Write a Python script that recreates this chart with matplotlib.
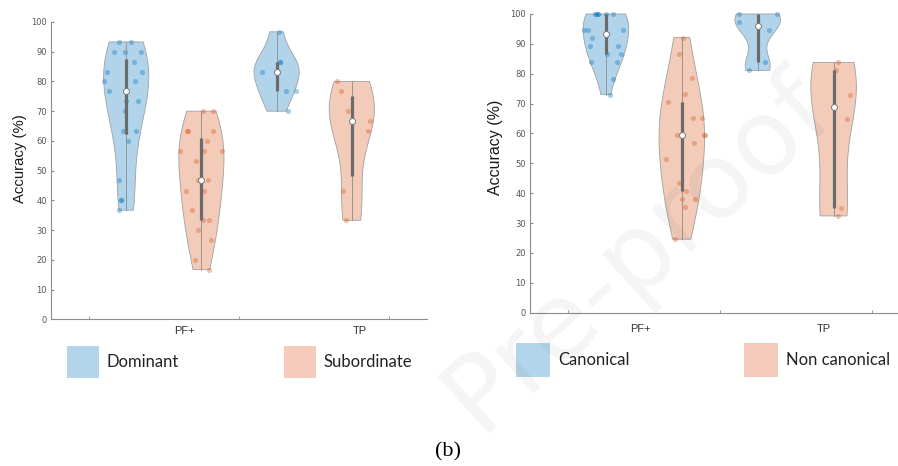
import matplotlib.pyplot as plt
from matplotlib.patches import Rectangle
import numpy as np

blue = (0.0, 0.447, 0.741)
orange = (0.85, 0.325, 0.098)

# left panel: Dominant / Subordinate
dom_pf = [93.3, 93.3, 90, 90, 90, 86.7, 83.3, 83.3, 80, 80, 76.7, 73.3, 73.3, 70, 63.3, 63.3, 60, 46.7, 40, 40, 36.7]
dom_pf_dx = [-0.09, 0.07, -0.16, -0.01, 0.20, 0.11, -0.26, 0.21, -0.29, 0.12, -0.23, 0.0, 0.16, -0.01, -0.04, 0.13, 0.02, -0.09, -0.075, -0.065, -0.09]
sub_pf = [70, 70, 63.3, 63.3, 63.3, 60, 56.7, 56.7, 56.7, 53.3, 46.7, 46.7, 43.3, 43.3, 36.7, 33.3, 33.3, 30, 26.7, 20, 16.7]
sub_pf_dx = [0.02, 0.15, -0.19, -0.18, 0.16, 0.08, -0.28, 0.04, 0.28, -0.07, -0.05, 0.09, -0.20, 0.04, -0.12, 0.02, 0.10, -0.05, 0.13, -0.08, 0.10]
dom_tp = [96.7, 86.7, 86.7, 83.3, 83.3, 76.7, 76.7, 70]
dom_tp_dx = [0.03, 0.04, 0.045, -0.20, 0.0, 0.12, 0.26, 0.15]
sub_tp = [80, 76.7, 70, 66.7, 63.3, 43.3, 33.3]
sub_tp_dx = [-0.20, -0.15, -0.05, 0.24, 0.21, -0.12, -0.08]

# right panel: Canonical / Non canonical
can_pf = [100, 100, 100, 100, 100, 100, 94.6, 94.6, 94.6, 91.9, 89.2, 89.2, 86.5, 86.5, 83.8, 83.8, 78.4, 73.0]
can_pf_dx = [-0.15, -0.13, -0.11, -0.10, 0.10, 0.0, -0.29, -0.23, 0.22, -0.18, -0.21, 0.16, 0.01, 0.20, -0.20, 0.15, 0.10, 0.06]
non_pf = [92.1, 86.6, 78.5, 73.1, 70.4, 65.1, 65.1, 59.6, 59.6, 59.6, 56.9, 51.5, 43.4, 40.6, 37.9, 37.9, 35.3, 24.6]
non_pf_dx = [0.02, -0.04, 0.13, 0.04, -0.18, 0.15, 0.27, 0.29, 0.30, -0.06, 0.16, -0.21, -0.04, 0.05, 0.0, 0.18, 0.04, -0.09]
can_tp = [100, 100, 97.3, 94.6, 83.8, 81.1]
can_tp_dx = [-0.24, 0.26, -0.24, 0.15, 0.10, -0.11]
non_tp = [83.8, 81.1, 73.0, 64.9, 35.1, 32.4]
non_tp_dx = [0.06, 0.03, 0.22, 0.18, 0.10, 0.06]

cond_labels = ['PF+', 'TP']
left_names = ['Dominant', 'Subordinate']
right_names = ['Canonical', 'Non canonical']


def kde(vals, grid):
    # same default bandwidth as MATLAB ksdensity
    v = np.asarray(vals, dtype=float)
    sig = np.median(np.abs(v - np.median(v))) / 0.6745
    bw = sig * (4 / (3 * len(v))) ** 0.2
    return np.exp(-0.5 * ((grid[:, None] - v[None, :]) / bw) ** 2).sum(axis=1)


def violin(ax, pos, vals, dx, color):
    v = np.asarray(vals, dtype=float)
    grid = np.linspace(v.min(), v.max(), 200)
    w = kde(v, grid)
    w = w / w.max() * 0.3
    xs = np.concatenate([pos - w, (pos + w)[::-1]])
    ys = np.concatenate([grid, grid[::-1]])
    ax.fill(xs, ys, facecolor=(*color, 0.3), edgecolor='#a0a0a0', lw=0.6, zorder=2, clip_on=False)
    ax.scatter(pos + np.asarray(dx), v, s=14, color=color, alpha=0.35, lw=0, zorder=3, clip_on=False)
    q1, med, q3 = np.percentile(v, [25, 50, 75], method='hazen')
    ax.plot([pos, pos], [v.min(), v.max()], color='#8a8a8a', lw=0.6, zorder=4, clip_on=False)
    ax.plot([pos, pos], [q1, q3], color='#6b6b6b', lw=2.3, zorder=5, solid_capstyle='butt', clip_on=False)
    ax.plot(pos, med, 'o', ms=4.3, mfc='white', mec='#7a7a7a', mew=0.7, zorder=6, clip_on=False)


def setup(ax, label_pos, label_pad):
    ax.set_xlim(0, 5)
    ax.set_ylim(0, 100)
    ax.set_yticks(np.arange(0, 101, 10))
    ax.set_xticks(label_pos)
    ax.set_xticklabels(cond_labels, fontsize=8, color='#333333', family='Liberation Sans')
    ax.set_xticks([0.5, 2.5, 4.5], minor=True)
    ax.tick_params(axis='x', which='major', length=0, pad=label_pad)
    ax.tick_params(axis='x', which='minor', direction='in', length=2.5, color='#8c8c8c')
    ax.tick_params(axis='y', direction='in', length=2.5, color='#8c8c8c', labelsize=6,
                   labelcolor='#555555', pad=3)
    for s in ['top', 'right']:
        ax.spines[s].set_visible(False)
    for s in ['left', 'bottom']:
        ax.spines[s].set_color('#8c8c8c')
        ax.spines[s].set_linewidth(0.8)
    ax.set_facecolor('none')


fig = plt.figure(figsize=(8.98, 4.66), dpi=100)

ax1 = fig.add_axes([0.0568, 0.3148, 0.4187, 0.638])
violin(ax1, 1, dom_pf, dom_pf_dx, blue)
violin(ax1, 2, sub_pf, sub_pf_dx, orange)
violin(ax1, 3, dom_tp, dom_tp_dx, blue)
violin(ax1, 4, sub_tp, sub_tp_dx, orange)
setup(ax1, [1.78, 4.1], 5)
ax1.set_ylabel('Accuracy (%)', fontsize=10.7, family='Liberation Sans', color='#1a1a1a')
ax1.yaxis.set_label_coords(-0.064, 0.54)

ax2 = fig.add_axes([0.5902, 0.329, 0.4226, 0.641])
violin(ax2, 1, can_pf, can_pf_dx, blue)
violin(ax2, 2, non_pf, non_pf_dx, orange)
violin(ax2, 3, can_tp, can_tp_dx, blue)
violin(ax2, 4, non_tp, non_tp_dx, orange)
setup(ax2, [1.46, 3.87], 8)
ax2.set_ylabel('Accuracy (%)', fontsize=11.5, family='Liberation Sans', color='#1a1a1a')
ax2.yaxis.set_label_coords(-0.072, 0.553)

# legend boxes drawn below each panel
W, H = 898, 466
legend_items = [
    (left_names[0], blue, 67, 346, 32),
    (left_names[1], orange, 284, 346, 32),
    (right_names[0], blue, 516, 343, 34),
    (right_names[1], orange, 744, 343, 34),
]
for name, c, px, py, size in legend_items:
    face = tuple(1 - 0.3 * (1 - np.array(c)))
    fig.add_artist(Rectangle((px / W, 1 - (py + size) / H), size / W, size / H,
                             transform=fig.transFigure, facecolor=face, edgecolor='none'))
    fig.text((px + size + 8) / W, 1 - (py + size / 2) / H, name, fontsize=12,
             family='Lato', color='#222222', va='center', ha='left')

fig.text(0.499, 0.03, '(b)', fontsize=16, family='Liberation Serif', ha='center', va='center')

# faint journal watermark
fig.text(0.71, 0.46, 'Pre-proof', fontsize=76, rotation=42, color='black', alpha=0.045,
         ha='center', va='center', zorder=10)

fig.savefig('out.png', dpi=100)
